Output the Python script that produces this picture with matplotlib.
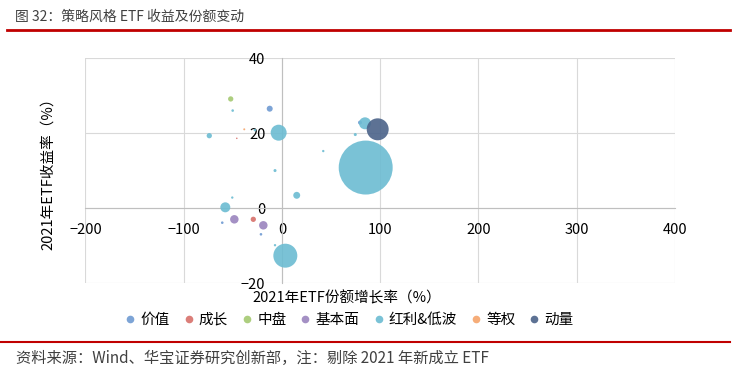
import matplotlib
matplotlib.use('Agg')
import matplotlib.pyplot as plt
from matplotlib.lines import Line2D

plt.rcParams['font.family'] = ['Noto Sans CJK SC', 'DejaVu Sans']

# series: (份额增长率, 收益率, 规模)
groups = ['价值', '成长', '中盘', '基本面', '红利&低波', '等权', '动量']
colors = ['#6F9AD2', '#D7706A', '#A4C971', '#9A84BE', '#6CBCD2', '#F5A46A', '#4B6389']

x_jz = [-12.5, 79.4, -60.8, -21.4]
y_jz = [26.5, 22.8, -3.9, -7.0]
s_jz = [9, 4, 1.7, 1.7]

x_cz = [-46.0, -29.2]
y_cz = [18.6, -3.0]
s_cz = [0.6, 7]

x_zp = [-52.2]
y_zp = [29.1]
s_zp = [7]

x_jbm = [-48.5, -19.0]
y_jbm = [-3.0, -4.6]
s_jbm = [18, 18]

x_hl = [-50.2, -74.0, -27.5, -3.4, 84.5, 74.6, 42.0, 85.2, -7.1, 15.0, -50.6, -57.7, -7.1, 3.4]
y_hl = [26.0, 19.3, 20.8, 20.1, 22.6, 19.6, 15.2, 10.8, 10.0, 3.4, 2.8, 0.2, -9.9, -12.7]
s_hl = [1.7, 7, 1.7, 64, 36, 2.3, 1.4, 729, 2.3, 12, 1.4, 25, 1.4, 144]

x_dq = [-38.4]
y_dq = [21.0]
s_dq = [1]

x_dl = [97.4]
y_dl = [21.0]
s_dl = [121]

xs = [x_jz, x_cz, x_zp, x_jbm, x_hl, x_dq, x_dl]
ys = [y_jz, y_cz, y_zp, y_jbm, y_hl, y_dq, y_dl]
ss = [s_jz, s_cz, s_zp, s_jbm, s_hl, s_dq, s_dl]

xticks = [-200, -100, 0, 100, 200, 300, 400]
yticks = [-20, 0, 20, 40]

fig = plt.figure(figsize=(7.32, 3.82), dpi=100)
ax = fig.add_axes([0.1168, 0.259, 0.8053, 0.589])

for g, c, x, y, s in zip(groups, colors, xs, ys, ss):
    ax.scatter(x, y, s=[v * 2.07 for v in s], color=c, alpha=0.9, edgecolors='none', zorder=3)

ax.set_xlim(-200, 400)
ax.set_ylim(-20, 40)
ax.set_xticks(xticks)
ax.set_yticks(yticks)
ax.grid(True, color='#D9D9D9', linewidth=0.8, zorder=0)
ax.spines['left'].set_position(('data', 0))
ax.spines['bottom'].set_position(('data', 0))
ax.spines['left'].set_color('#BFBFBF')
ax.spines['bottom'].set_color('#BFBFBF')
ax.spines['right'].set_visible(False)
ax.spines['top'].set_visible(False)
ax.tick_params(axis='x', length=0, labelsize=10.5, colors='black', pad=11)
ax.tick_params(axis='y', length=0, labelsize=10.5, colors='black', pad=12)
ax.set_axisbelow(True)

fig.text(0.066, 0.555, '2021年ETF收益率（%）', rotation=90, ha='center', va='center', fontsize=10.5)
fig.text(0.474, 0.219, '2021年ETF份额增长率（%）', ha='center', va='center', fontsize=10.5)

handles = [Line2D([], [], marker='o', linestyle='none', markersize=5.5, markerfacecolor=c,
                  markeredgecolor='none', alpha=0.9) for c in colors]
fig.legend(handles, groups, loc='center', bbox_to_anchor=(0.477, 0.163), ncol=7, frameon=False,
           fontsize=10.5, handlelength=0.8, handletextpad=0.3, columnspacing=0.9)

# title and footer
fig.text(0.02, 0.955, '图 32：策略风格 ETF 收益及份额变动', ha='left', va='center', fontsize=10, color='#404040')
fig.add_artist(Line2D([0.01, 0.997], [0.922, 0.922], color='#C00000', linewidth=2))
fig.add_artist(Line2D([0.0, 0.997], [0.105, 0.105], color='#C00000', linewidth=1.5))
fig.text(0.022, 0.062, '资料来源：Wind、华宝证券研究创新部，注：剔除 2021 年新成立 ETF', ha='left', va='center',
         fontsize=11, color='#404040')

fig.savefig('out.png', dpi=100)
